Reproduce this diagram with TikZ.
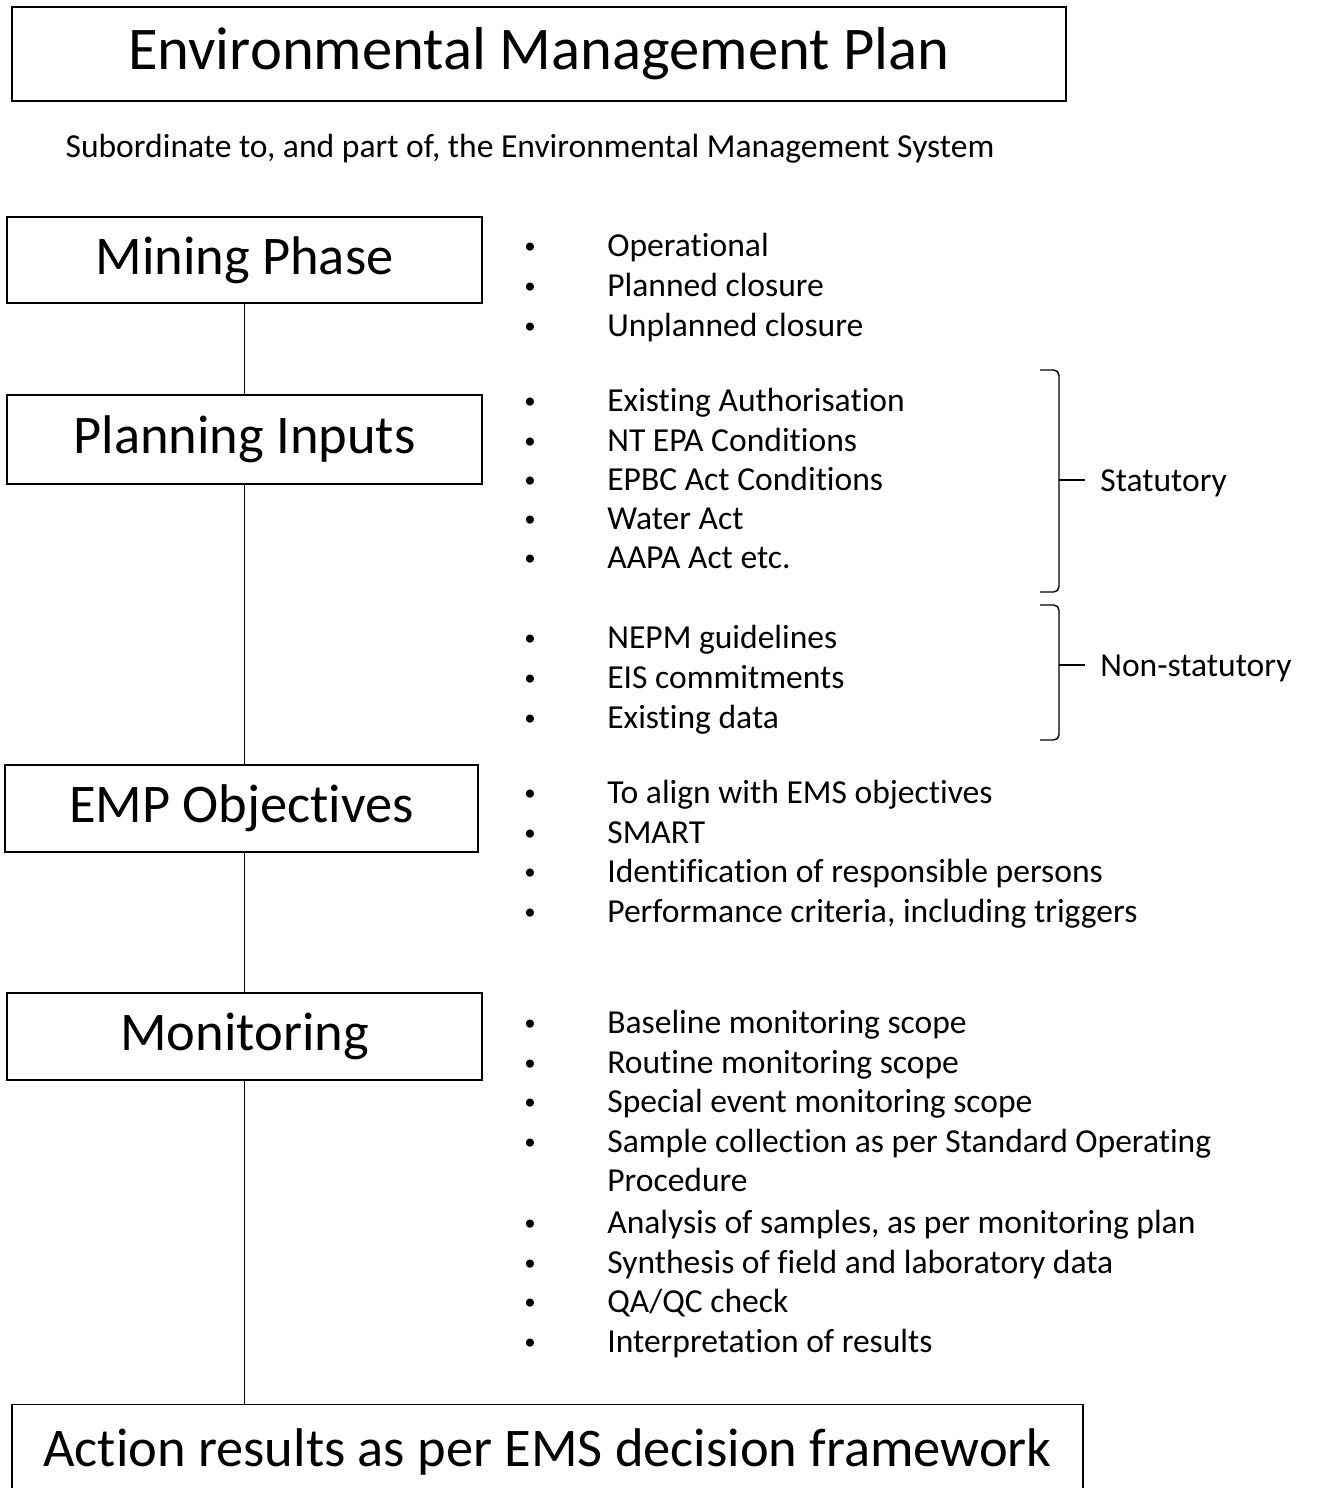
\documentclass[tikz,border=0pt]{standalone}
\usepackage{fontspec}
\setmainfont{Carlito}[Ligatures=CommonOff]
\tikzset{
  box/.style={draw, line width=0.9pt, inner sep=0pt, font=\fontsize{31}{36}\selectfont},
  item/.style={anchor=west, inner sep=0pt, yshift=-3.4pt, text height=1.45ex, text depth=0.35ex, font=\fontsize{19.1}{23}\selectfont},
  dot/.style={anchor=center, inner sep=0pt, yshift=-1.2pt, font=\fontsize{13}{15}\selectfont},
  brace/.style={line width=0.8pt, rounded corners=3pt}
}
\begin{document}
\begin{tikzpicture}[x=0.02cm, y=-0.02cm]
  \clip (0,0) rectangle (1319,1488);
  % boxes
  \node[box, minimum width=21.08cm, minimum height=1.88cm, font=\fontsize{34.5}{40}\selectfont] (emp-title) at (539,54) {Environmental Management Plan};
  \node[item, anchor=center] (emp-sub) at (530,147) {Subordinate to, and part of, the Environmental Management System};
  \node[box, minimum width=9.5cm, minimum height=1.72cm] (mining) at (244.5,260) {Mining Phase};
  \node[box, minimum width=9.5cm, minimum height=1.78cm] (planning) at (244.5,439.5) {Planning Inputs};
  \node[box, minimum width=9.46cm, minimum height=1.74cm] (objectives) at (241.5,808.5) {EMP Objectives};
  \node[box, minimum width=9.5cm, minimum height=1.74cm] (monitoring) at (244.5,1036.5) {Monitoring};
  \node[box, minimum width=21.42cm, minimum height=1.9cm] (action) at (547.5,1452) {Action results as per EMS decision framework};
  % connectors
  \begin{scope}[line width=0.6pt]
    \draw (mining) -- (planning);
    \draw (planning.south) -- (planning.south |- objectives.north);
    \draw (monitoring.north |- objectives.south) -- (monitoring);
    \draw (monitoring.south) -- (monitoring.south |- action.north);
  \end{scope}
  % bullet lists
  \foreach \y/\txt [count=\i] in {246/Operational, 286/Planned closure, 326/Unplanned closure}{
    \node[dot] (phase-dot-\i) at (530,\y) {•};
    \node[item] (phase-\i) at (607,\y) {\txt};
  }
  \foreach \y/\txt [count=\i] in {401/Existing Authorisation, 441/NT EPA Conditions, 480/EPBC Act Conditions,
      519/Water Act, 558/AAPA Act etc., 638/NEPM guidelines, 678/EIS commitments, 718/Existing data}{
    \node[dot] (input-dot-\i) at (530,\y) {•};
    \node[item] (input-\i) at (607,\y) {\txt};
  }
  \foreach \y/\txt [count=\i] in {793/To align with EMS objectives, 833/SMART,
      872/Identification of responsible persons, 912/{Performance criteria, including triggers}}{
    \node[dot] (obj-dot-\i) at (530,\y) {•};
    \node[item] (obj-\i) at (607,\y) {\txt};
  }
  \foreach \y/\txt [count=\i] in {1023/Baseline monitoring scope, 1063/Routine monitoring scope,
      1102/Special event monitoring scope, 1142/Sample collection as per Standard Operating,
      1223/{Analysis of samples, as per monitoring plan}, 1263/Synthesis of field and laboratory data,
      1302/{QA/QC check}, 1342/Interpretation of results}{
    \node[dot] (mon-dot-\i) at (530,\y) {•};
    \node[item] (mon-\i) at (607,\y) {\txt};
  }
  \node[item] (mon-4b) at (607,1181) {Procedure};
  % braces
  \draw[brace] (1040,370) -- (1059,370) -- (1059,592) -- (1040,592);
  \coordinate (stat-tip) at (1059,480);
  \coordinate (stat-end) at (1085,480);
  \node[item] (stat) at (1100,481) {Statutory};
  \draw[line width=0.8pt] (stat-tip) -- (stat-end);
  \draw[brace] (1040,605) -- (1059,605) -- (1059,740) -- (1040,740);
  \coordinate (nonstat-tip) at (1059,665);
  \coordinate (nonstat-end) at (1085,665);
  \node[item] (nonstat) at (1100,666) {Non-statutory};
  \draw[line width=0.8pt] (nonstat-tip) -- (nonstat-end);
\end{tikzpicture}
\end{document}
